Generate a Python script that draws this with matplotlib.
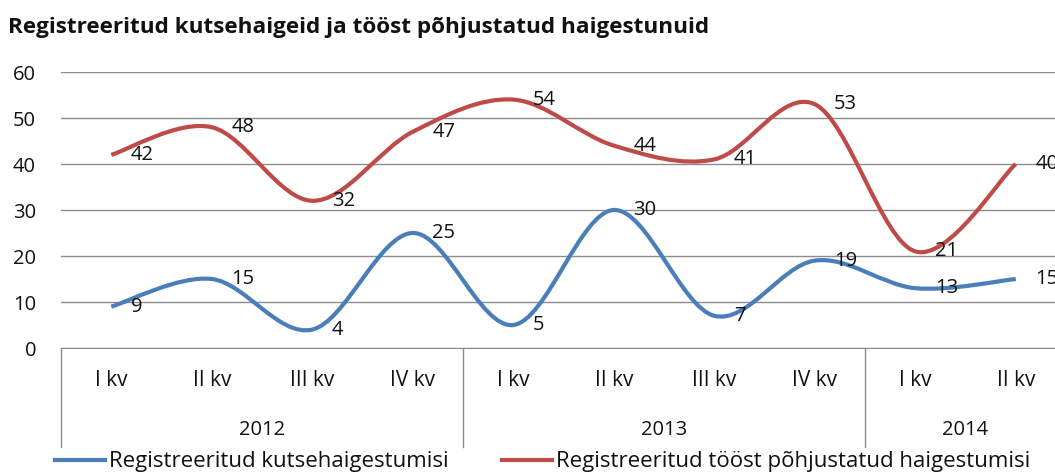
import matplotlib.pyplot as plt
from matplotlib.path import Path
from matplotlib.patches import PathPatch
from matplotlib.lines import Line2D
import matplotlib.transforms as mtransforms

quarters = ['I kv', 'II kv', 'III kv', 'IV kv', 'I kv', 'II kv', 'III kv', 'IV kv', 'I kv', 'II kv']
years = ['2012', '2013', '2014']
year_counts = [4, 4, 2]
kutse = [9, 15, 4, 25, 5, 30, 7, 19, 13, 15]
toost = [42, 48, 32, 47, 54, 44, 41, 53, 21, 40]
names = ['Registreeritud kutsehaigestumisi', 'Registreeritud tööst põhjustatud haigestumisi']
colors = ['#4A7EBB', '#BE4B48']

plt.rcParams['font.family'] = ['Open Sans', 'DejaVu Sans']
fs = 14.5

fig = plt.figure(figsize=(10.55, 4.76), dpi=100)
ax = fig.add_axes([61 / 1055, 1 - 348 / 476, 1005 / 1055, 276 / 476])


def smooth_path(xs, ys):
    # Excel-like smoothed line: cubic bezier through points
    pts = list(zip(xs, ys))
    n = len(pts)
    verts = [pts[0]]
    codes = [Path.MOVETO]
    for i in range(n - 1):
        p0 = pts[i - 1] if i > 0 else pts[i]
        p1 = pts[i]
        p2 = pts[i + 1]
        p3 = pts[i + 2] if i + 2 < n else pts[i + 1]
        c1 = (p1[0] + (p2[0] - p0[0]) / 6, p1[1] + (p2[1] - p0[1]) / 6)
        c2 = (p2[0] - (p3[0] - p1[0]) / 6, p2[1] - (p3[1] - p1[1]) / 6)
        verts += [c1, c2, p2]
        codes += [Path.CURVE4] * 3
    return Path(verts, codes)


x = list(range(len(quarters)))
for vals, col in zip([kutse, toost], colors):
    patch = PathPatch(smooth_path(x, vals), facecolor='none', edgecolor=col,
                      lw=3, capstyle='butt', zorder=3)
    ax.add_patch(patch)
    for xi, v in zip(x, vals):
        ax.annotate(str(v), (xi, v), xytext=(14, 0), textcoords='offset points',
                    ha='left', va='center', fontsize=fs, color='#111111', zorder=4)

ax.set_xlim(-0.5, len(quarters) - 0.5)
ax.set_ylim(0, 60)
ax.set_yticks(range(0, 61, 10))
ax.yaxis.grid(True, color='#8C8C8C', lw=1)
ax.set_axisbelow(True)
for s in ['left', 'right', 'top']:
    ax.spines[s].set_visible(False)
ax.spines['bottom'].set_color('#8C8C8C')
ax.tick_params(axis='y', length=0, pad=18, labelsize=fs, labelcolor='#111111')
ax.set_xticks(x)
ax.set_xticklabels([])
ax.tick_params(axis='x', length=0)

trans = mtransforms.blended_transform_factory(ax.transData, ax.transAxes)
for xi, q in zip(x, quarters):
    ax.text(xi, -33 / 276, q, transform=trans, ha='center', va='center', fontsize=fs + 0.5, color='#111111')
start = -0.5
for yr, cnt in zip(years, year_counts):
    ax.text(start + cnt / 2, -82 / 276, yr, transform=trans, ha='center', va='center', fontsize=fs,
            color='#111111')
    ax.plot([start, start], [0, -99 / 276], transform=trans, color='#8C8C8C', lw=1, clip_on=False)
    start += cnt

handles = [Line2D([], [], color=c, lw=3) for c in colors]
fig.legend(handles, names, loc='center', bbox_to_anchor=(0.514, 1 - 462 / 476), ncol=2,
           frameon=False, fontsize=16, handlelength=2.25, handletextpad=0.18, columnspacing=2.4,
           labelcolor='#111111', borderpad=0)

fig.text(8 / 1055, 1 - 33 / 476, 'Registreeritud kutsehaigeid ja tööst põhjustatud haigestunuid',
         fontsize=16.2, fontweight='bold', ha='left', va='baseline', color='#111111')

fig.savefig('out.png', dpi=100)
